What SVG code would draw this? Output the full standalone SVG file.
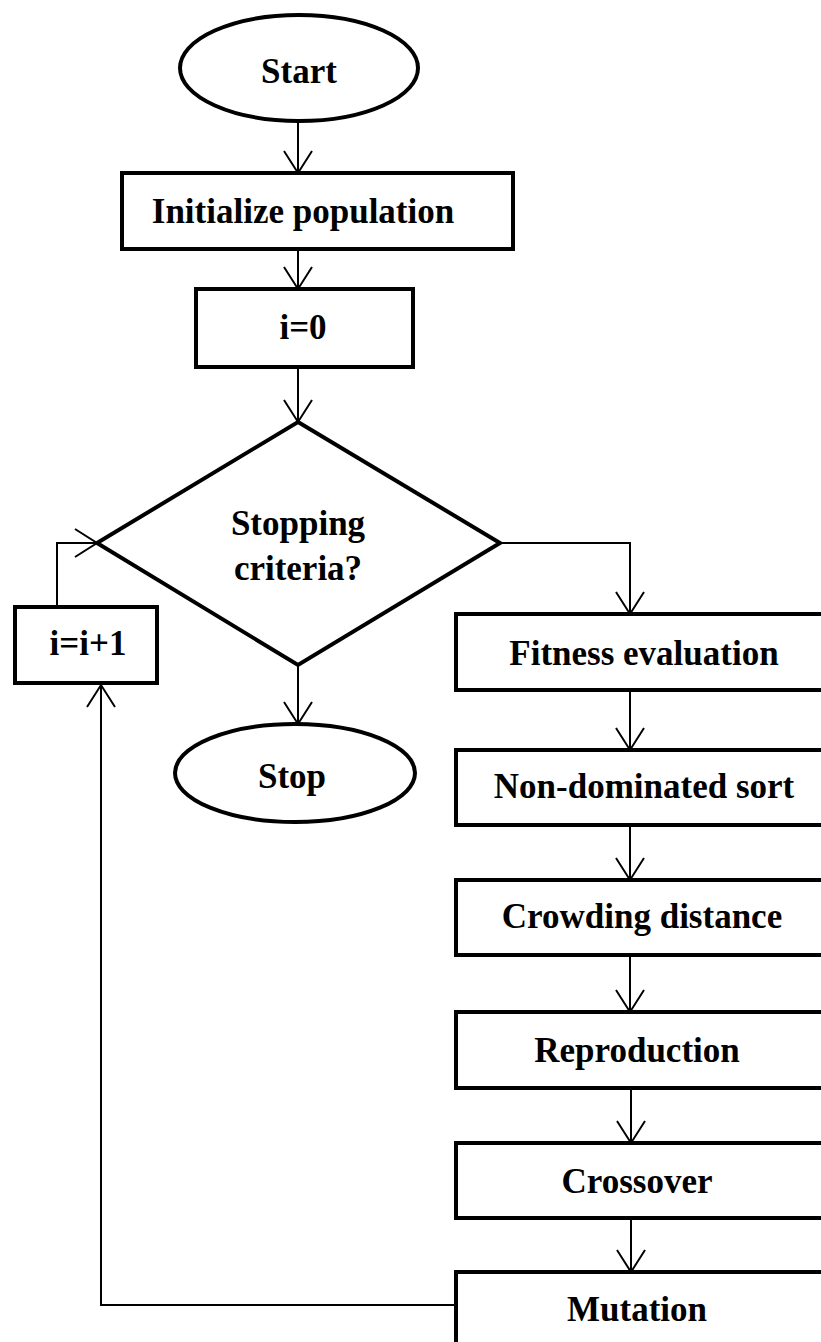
<svg xmlns="http://www.w3.org/2000/svg" width="821" height="1342" viewBox="0 0 821 1342">
<style>
.box{fill:#fff;stroke:#000;stroke-width:4}
.lbl{font-family:"Liberation Serif","Times New Roman",serif;font-weight:bold;font-size:35px;fill:#000;text-anchor:middle}
.con{fill:none;stroke:#000;stroke-width:2}
</style>
<defs>
<marker id="ah" markerUnits="userSpaceOnUse" markerWidth="30" markerHeight="34" refX="23" refY="15" orient="auto" viewBox="0 0 30 34">
<path d="M1,1 L23,15 L1,29" fill="none" stroke="#000" stroke-width="2"/>
</marker>
</defs>
<rect width="821" height="1342" fill="#fff"/>
<g id="connectors">
<line class="con" x1="298" y1="122" x2="298" y2="173" marker-end="url(#ah)"/>
<line class="con" x1="298" y1="249" x2="298" y2="289" marker-end="url(#ah)"/>
<line class="con" x1="298" y1="367" x2="298" y2="422" marker-end="url(#ah)"/>
<line class="con" x1="298" y1="665" x2="298" y2="724" marker-end="url(#ah)"/>
<polyline class="con" points="500,543 630,543 630,614" marker-end="url(#ah)"/>
<polyline class="con" points="57,607 57,543 97,543" marker-end="url(#ah)"/>
<line class="con" x1="630" y1="690" x2="630" y2="750" marker-end="url(#ah)"/>
<line class="con" x1="630" y1="825" x2="630" y2="880" marker-end="url(#ah)"/>
<line class="con" x1="630" y1="955" x2="630" y2="1012" marker-end="url(#ah)"/>
<line class="con" x1="631" y1="1088" x2="631" y2="1143" marker-end="url(#ah)"/>
<line class="con" x1="631" y1="1218" x2="631" y2="1272" marker-end="url(#ah)"/>
<polyline class="con" points="456,1305 101,1305 101,685" marker-end="url(#ah)"/>
</g>
<g id="start">
<ellipse class="box" cx="299" cy="68" rx="119" ry="53"/>
<text class="lbl" x="299" y="83">Start</text>
</g>
<g id="init">
<rect class="box" x="122" y="173" width="391" height="76"/>
<text class="lbl" x="303" y="223">Initialize population</text>
</g>
<g id="i0">
<rect class="box" x="196" y="289" width="217" height="78"/>
<text class="lbl" x="303" y="339">i=0</text>
</g>
<g id="decision">
<polygon class="box" points="298,422 500,543 298,665 97,543"/>
<text class="lbl" x="298" y="535">Stopping</text>
<text class="lbl" x="298" y="580">criteria?</text>
</g>
<g id="incr">
<rect class="box" x="15" y="607" width="142" height="76"/>
<text class="lbl" x="88" y="655">i=i+1</text>
</g>
<g id="stop">
<ellipse class="box" cx="295" cy="773" rx="120" ry="49"/>
<text class="lbl" x="292" y="788">Stop</text>
</g>
<g id="fitness">
<rect class="box" x="456" y="614" width="380" height="76"/>
<text class="lbl" x="644" y="665">Fitness evaluation</text>
</g>
<g id="nds">
<rect class="box" x="456" y="750" width="380" height="75"/>
<text class="lbl" x="644" y="798">Non-dominated sort</text>
</g>
<g id="crowding">
<rect class="box" x="456" y="880" width="380" height="75"/>
<text class="lbl" x="642" y="928">Crowding distance</text>
</g>
<g id="reproduction">
<rect class="box" x="456" y="1012" width="380" height="76"/>
<text class="lbl" x="637" y="1062">Reproduction</text>
</g>
<g id="crossover">
<rect class="box" x="456" y="1143" width="380" height="75"/>
<text class="lbl" x="637" y="1193">Crossover</text>
</g>
<g id="mutation">
<rect class="box" x="456" y="1272" width="380" height="90"/>
<text class="lbl" x="637" y="1321">Mutation</text>
</g>
</svg>
